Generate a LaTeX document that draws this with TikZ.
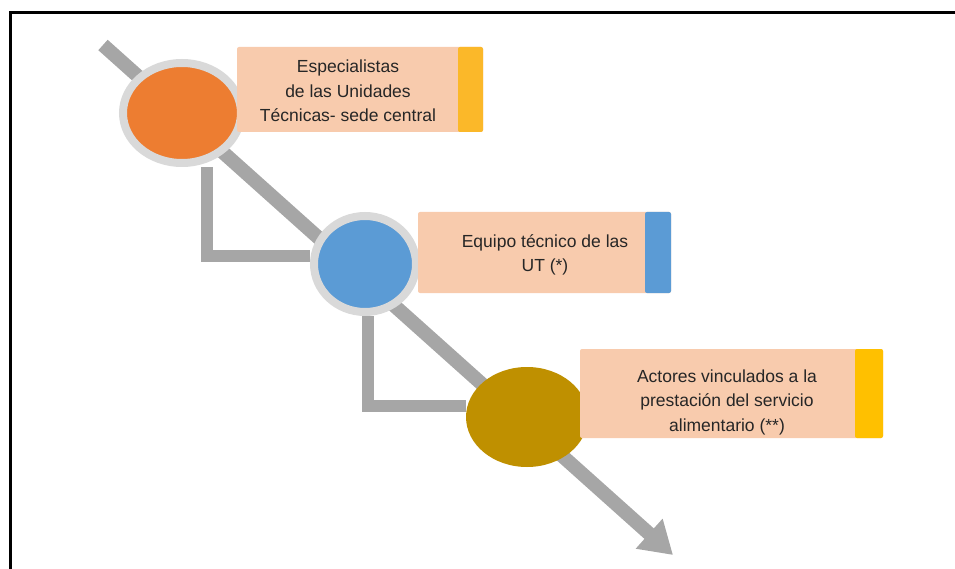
\documentclass[tikz,border=0pt]{standalone}
\usepackage{fontspec}
\setmainfont{Liberation Sans}
\usetikzlibrary{shapes.geometric,arrows.meta,backgrounds}
\definecolor{peach}{HTML}{F8CBAD}
\definecolor{ringgrey}{HTML}{D9D9D9}
\definecolor{linegrey}{HTML}{A6A6A6}
\definecolor{orangefill}{HTML}{ED7D31}
\definecolor{bluefill}{HTML}{5B9BD5}
\definecolor{goldfill}{HTML}{BF9000}
\definecolor{ambera}{HTML}{FBB829}
\definecolor{amberb}{HTML}{FFC000}
\definecolor{inktext}{HTML}{262626}
\begin{document}
\begin{tikzpicture}[x=1pt,y=-1pt,
    ring/.style={ellipse, draw=ringgrey, line width=8pt, inner sep=0pt},
    dot/.style={ellipse, inner sep=0pt},
    card/.style={rectangle, fill=peach, rounded corners=2pt, inner sep=0pt},
    strip/.style={rectangle, rounded corners=2pt, inner sep=0pt, anchor=east},
    boxtext/.style={align=center, text=inktext, inner sep=0pt,
      font=\fontsize{17.5}{24.5}\selectfont},
    link/.style={draw=linegrey, line width=12pt}]
    \useasboundingbox (0,0) rectangle (955,569);
    \draw[line width=3pt] (10,580) -- (10,13) -- (960,13);

    \node[ring, fill=orangefill, minimum width=118pt, minimum height=100pt] (c1) at (182,113) {};
    \node[ring, fill=bluefill, minimum width=102pt, minimum height=96pt] (c2) at (365,264) {};
    \node[dot, fill=goldfill, minimum width=122pt, minimum height=100pt] (c3) at (527,417) {};

    \foreach \n/\x/\y/\w/\h/\s/\c in {1/360/89.5/246/85/25/ambera,
                                      2/544.5/252.5/253/81/26/bluefill,
                                      3/731.5/393.5/303/89/28/amberb}
      {
        \node[card, minimum width=\w pt, minimum height=\h pt] (b\n) at (\x,\y) {};
        \node[strip, fill=\c, minimum width=\s pt, minimum height=\h pt] (s\n) at (b\n.east) {};
      }

    \node[boxtext] (t1) at (348,91) {Especialistas\\de las Unidades\\Técnicas- sede central};
    \node[boxtext] (t2) at (545,255) {Equipo técnico de las\\UT (*)};
    \node[boxtext] (t3) at (727,402) {Actores vinculados a la\\prestación del servicio\\alimentario (**)};

    \coordinate (start) at (103,45);
    \coordinate (tip) at (673,555);
    \begin{scope}[on background layer]
      \draw[linegrey, line width=14pt, -{Triangle[length=32pt, width=38pt]}] (start) -- (tip);
      \draw[link] ([xshift=25pt]c1.south) |- ([yshift=8pt]c2.west);
      \draw[link] ([xshift=3pt]c2.south) |- ([yshift=11pt]c3.west);
    \end{scope}
\end{tikzpicture}
\end{document}
